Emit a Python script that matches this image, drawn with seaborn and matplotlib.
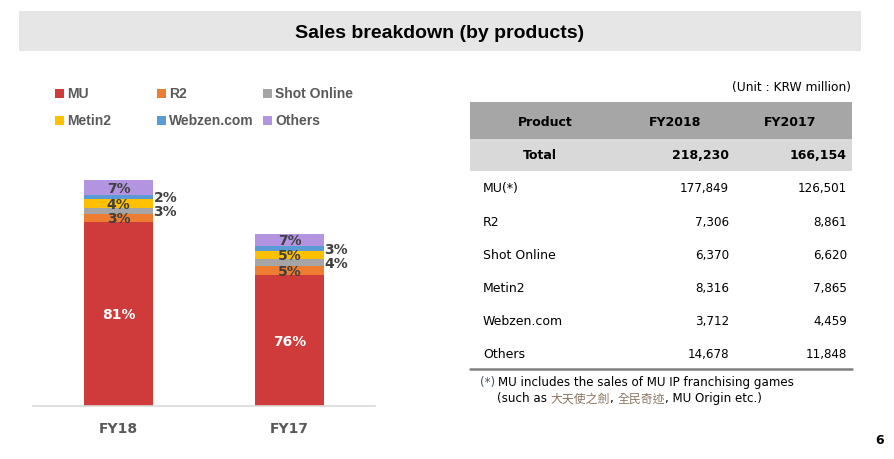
import matplotlib
matplotlib.use("Agg")
import matplotlib.pyplot as plt
import seaborn as sns
import pandas as pd
import numpy as np
from matplotlib.patches import Rectangle

# data (KRW million)
years = ["FY18", "FY17"]
products = ["MU", "R2", "Shot Online", "Metin2", "Webzen.com", "Others"]
sales_fy2018 = [177849, 7306, 6370, 8316, 3712, 14678]
sales_fy2017 = [126501, 8861, 6620, 7865, 4459, 11848]
total_fy2018 = 218230
total_fy2017 = 166154
table_labels = ["MU(*)", "R2", "Shot Online", "Metin2", "Webzen.com", "Others"]
table_header = ["Product", "FY2018", "FY2017"]
colors = ["#cf3a3a", "#ed7d31", "#a5a5a5", "#ffc000", "#5b9bd5", "#b294e0"]
outside_labels = ["Shot Online", "Webzen.com"]

sns.set_theme(style="white")
plt.rcParams["font.family"] = ["DejaVu Sans", "Noto Sans CJK TC"]
narrow = ["Liberation Sans", "DejaVu Sans"]

fig = plt.figure(figsize=(8.94, 4.6), dpi=100)

# background axes in pixel coordinates for the page furniture
bg = fig.add_axes([0, 0, 1, 1])
bg.set_xlim(0, 894)
bg.set_ylim(460, 0)
bg.axis("off")

# title banner
bg.add_patch(Rectangle((19, 12), 842, 40, color="#e6e6e6", lw=0))
bg.text(440, 33, "Sales breakdown (by products)", ha="center", va="center",
        fontsize=14, fontweight="bold", color="black", family=narrow)

# ---- stacked bars ----
df = pd.DataFrame({
    "year": np.repeat(years, len(products)),
    "product": products * 2,
    "sales": sales_fy2018 + sales_fy2017,
})
df["top"] = df.groupby("year")["sales"].cumsum()
df["bottom"] = df["top"] - df["sales"]

ax = fig.add_axes([33 / 894, 53 / 460, 342 / 894, 238 / 460])
for prod, col in reversed(list(zip(products, colors))):
    sub = df[df["product"] == prod]
    sns.barplot(data=sub, x="year", y="top", order=years, color=col,
                width=0.4, saturation=1, errorbar=None, ax=ax, linewidth=0)

ax.set_xlim(-0.5, 1.5)
ax.set_ylim(0, 230000)
ax.set_xlabel("")
ax.set_ylabel("")
ax.set_yticks([])
for s in ["top", "left", "right"]:
    ax.spines[s].set_visible(False)
ax.spines["bottom"].set_color("#d9d9d9")
ax.spines["bottom"].set_linewidth(1.2)
ax.tick_params(axis="x", length=0, pad=11, labelsize=10, labelcolor="#595959")
for lbl in ax.get_xticklabels():
    lbl.set_fontweight("bold")

for i, yr in enumerate(years):
    sub = df[df["year"] == yr]
    total = sub["sales"].sum()
    for _, r in sub.iterrows():
        pct = f"{round(r['sales'] / total * 100):.0f}%"
        mid = (r["bottom"] + r["top"]) / 2
        if r["product"] in outside_labels:
            ax.text(i + 0.205, mid, pct, ha="left", va="center", fontsize=10,
                    fontweight="bold", color="#404040")
        else:
            c = "white" if r["product"] == "MU" else "#404040"
            ax.text(i, mid, pct, ha="center", va="center", fontsize=10,
                    fontweight="bold", color=c)

# manual legend (3 columns x 2 rows)
leg_x = [55, 157, 263]
leg_y = [94, 121]
for k, (prod, col) in enumerate(zip(products, colors)):
    x0 = leg_x[k % 3]
    y0 = leg_y[k // 3]
    bg.add_patch(Rectangle((x0, y0 - 4.5), 9, 9, color=col, lw=0))
    bg.text(x0 + 12, y0, prod, ha="left", va="center", fontsize=10,
            fontweight="bold", color="#595959", family=narrow)

# ---- table ----
bg.text(851, 87, "(Unit : KRW million)", ha="right", va="center", fontsize=8.8, color="black")
bg.add_patch(Rectangle((470, 103), 382, 37, color="#a6a6a6", lw=0))
bg.add_patch(Rectangle((470, 140), 382, 32, color="#d9d9d9", lw=0))
bg.plot([470, 852], [370, 370], color="#808080", lw=1.8)

hdr_x = [545, 675, 790]
for x, h in zip(hdr_x, table_header):
    bg.text(x, 122, h, ha="center", va="center", fontsize=9, fontweight="bold", color="black")

bg.text(523, 156, "Total", ha="left", va="center", fontsize=9, fontweight="bold", color="black")
bg.text(729, 156, f"{total_fy2018:,}", ha="right", va="center", fontsize=9, fontweight="bold", color="black")
bg.text(847, 156, f"{total_fy2017:,}", ha="right", va="center", fontsize=9, fontweight="bold", color="black")

row_y = 189
for lab, a, b in zip(table_labels, sales_fy2018, sales_fy2017):
    bg.text(483, row_y, lab, ha="left", va="center", fontsize=9, color="black")
    bg.text(729, row_y, f"{a:,}", ha="right", va="center", fontsize=8.6, color="black")
    bg.text(847, row_y, f"{b:,}", ha="right", va="center", fontsize=8.6, color="black")
    row_y += 33.2

# footnote
bg.text(480, 383, "(*)", ha="left", va="center", fontsize=8.6, color="#44546a")
bg.text(498, 383, "MU includes the sales of MU IP franchising games", ha="left",
        va="center", fontsize=8.6, color="black")
note_parts = ["(such as ", "大天使之劍", ", ", "全民奇迹", ", MU Origin etc.)"]
note_colors = ["black", "#8a7560", "black", "#8a7560", "black"]
fig.canvas.draw()
rend = fig.canvas.get_renderer()
x = 497
for part, col in zip(note_parts, note_colors):
    t = bg.text(x, 399, part, ha="left", va="center", fontsize=8.6, color=col)
    bb = t.get_window_extent(rend)
    x = bg.transData.inverted().transform((bb.x1, bb.y0))[0]

# page number
bg.text(880, 441, "6", ha="center", va="center", fontsize=9, fontweight="bold", color="black")

fig.savefig("out.png", dpi=100)
